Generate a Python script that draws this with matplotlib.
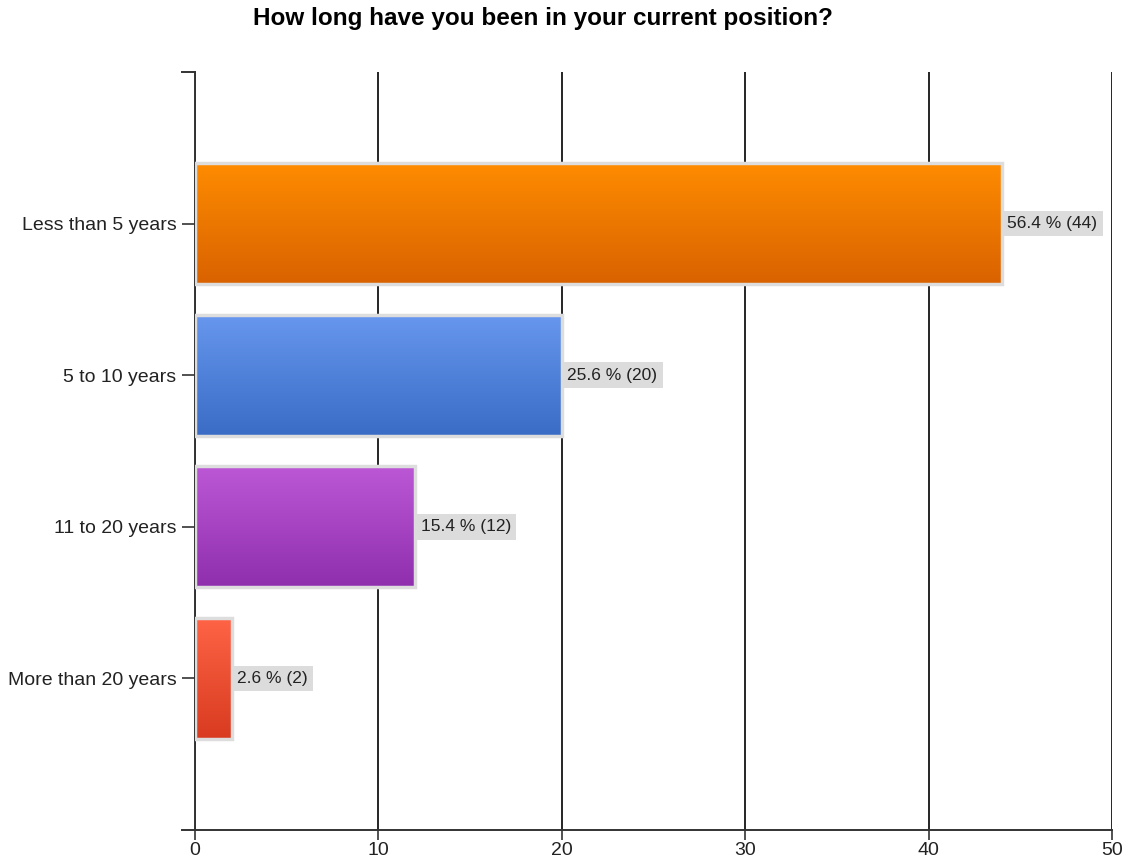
import numpy as np
import matplotlib.pyplot as plt
from matplotlib.colors import LinearSegmentedColormap

# survey responses
categories = ["Less than 5 years", "5 to 10 years", "11 to 20 years", "More than 20 years"]
counts = [44, 20, 12, 2]
percents = [56.4, 25.6, 15.4, 2.6]
x_ticks = [0, 10, 20, 30, 40, 50]

# top / bottom colours of each bar's vertical gradient
bar_colors = [
    ("#ff8c00", "#d96200"),
    ("#6797ee", "#3a6cc6"),
    ("#bc58d6", "#8f2fae"),
    ("#ff6447", "#d83b1f"),
]

plt.rcParams["font.family"] = ["Liberation Sans", "DejaVu Sans"]

fig = plt.figure(figsize=(11.22, 8.66), dpi=100)
ax = fig.add_axes([195 / 1122, 1 - 830 / 866, (1112 - 195) / 1122, (830 - 72) / 866])

ax.set_xticks(x_ticks)
ax.set_yticks(range(1, len(categories) + 1))
ax.set_yticklabels(categories)
ax.xaxis.grid(True, color="black", linewidth=1.2)
ax.set_axisbelow(True)

for s in ["top", "right"]:
    ax.spines[s].set_visible(False)
for s in ["left", "bottom"]:
    ax.spines[s].set_color("#333333")
    ax.spines[s].set_linewidth(1.4)

ax.tick_params(axis="both", width=1.2, color="#333333",
               labelsize=14, labelcolor="#222222")
ax.tick_params(axis="x", length=7.5, pad=1)
ax.tick_params(axis="y", length=9.5, pad=4)

bar_h = 0.8
grad = np.linspace(0, 1, 256).reshape(-1, 1)
for i, (cat, n, pct) in enumerate(zip(categories, counts, percents)):
    yc = i + 1
    top_c, bot_c = bar_colors[i]
    cmap = LinearSegmentedColormap.from_list(f"g{i}", [top_c, bot_c])
    # light outline drawn over the gradient fill
    ax.barh(yc, n, height=bar_h, color="none", edgecolor="#dddddd", linewidth=2.5, zorder=3)
    ax.imshow(grad, cmap=cmap, aspect="auto", zorder=2,
              extent=(0, n, yc + bar_h / 2, yc - bar_h / 2), interpolation="bicubic")
    ax.text(n + 0.3, yc, f"{pct} % ({n})", va="center", ha="left", fontsize=12.5,
            color="#222222", zorder=4,
            bbox=dict(boxstyle="square,pad=0.3", facecolor="#dcdcdc", edgecolor="none"))

ax.set_xlim(0, 50)
ax.set_ylim(len(categories) + 1, 0)

# ticks at both ends of the category axis
for yy in (0, len(categories) + 1):
    ax.plot([-0.7, 0], [yy, yy], color="#333333", linewidth=1.4, clip_on=False, zorder=5)

fig.text(543 / 1122, 1 - 18 / 866, "How long have you been in your current position?",
         ha="center", va="center", fontsize=17.5, fontweight="bold")

fig.savefig("out.png", dpi=100)
